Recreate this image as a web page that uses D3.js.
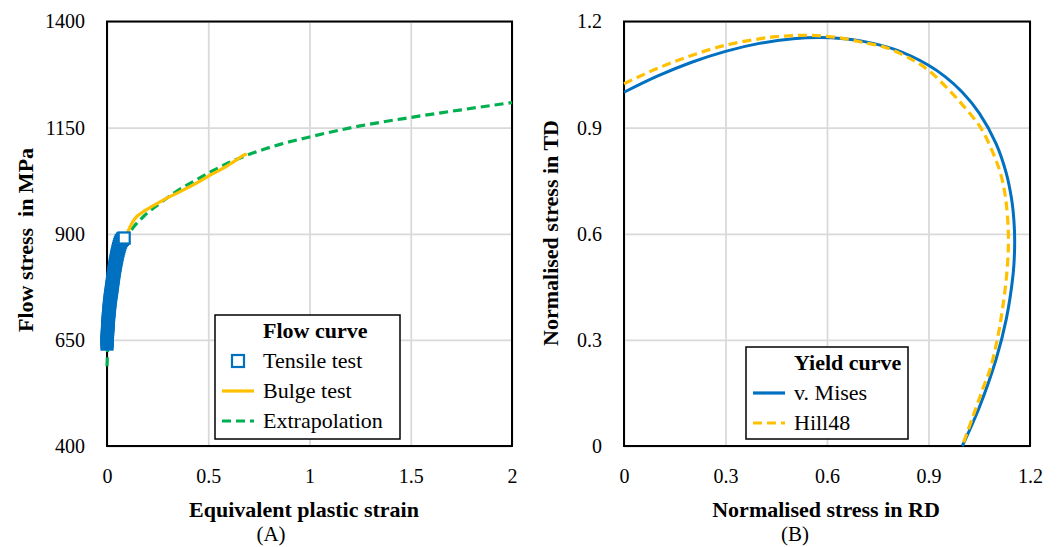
<!DOCTYPE html>
<html>
<head>
<meta charset="utf-8">
<script src="https://cdn.jsdelivr.net/npm/d3@7"></script>
<style>
  body { margin: 0; background: #fff; }
  svg text { font-family: "Liberation Serif", "Times New Roman", serif; fill: #000; }
</style>
</head>
<body>
<svg id="chart" width="1059" height="547"></svg>
<script>
// ---- panel A : flow curve ----
const tensileStrain = [0.0000, 0.0003, 0.0007, 0.0011, 0.0015, 0.0020, 0.0026, 0.0032, 0.0038, 0.0045,
  0.0052, 0.0059, 0.0066, 0.0074, 0.0082, 0.0091, 0.0100, 0.0111, 0.0122, 0.0133,
  0.0145, 0.0157, 0.0170, 0.0184, 0.0200, 0.0215, 0.0230, 0.0244, 0.0258, 0.0272,
  0.0286, 0.0300, 0.0315, 0.0330, 0.0346, 0.0362, 0.0380, 0.0398, 0.0416, 0.0435,
  0.0455, 0.0475, 0.0497, 0.0520, 0.0545, 0.0572, 0.0600, 0.0630, 0.0665, 0.0710,
  0.0760, 0.0800, 0.0850];
const tensileStress = [640, 645, 650, 655, 660, 665, 670, 675, 680, 685,
  690, 695, 700, 705, 710, 715, 720, 725, 730, 735,
  740, 745, 750, 755, 760, 765, 770, 775, 780, 785,
  790, 795, 800, 805, 810, 815, 820, 825, 830, 835,
  840, 845, 850, 855, 860, 865, 870, 875, 880, 884,
  887, 889, 890];

const bulgeStrain = [0.09, 0.105, 0.12, 0.135, 0.15, 0.179, 0.22, 0.262, 0.30, 0.344,
  0.385, 0.426, 0.47, 0.509, 0.55, 0.591, 0.63, 0.673, 0.69];
const bulgeStress = [893, 907, 922, 934, 942, 952, 964, 975, 985, 995,
  1005, 1015, 1027, 1038, 1048, 1059, 1071, 1085, 1088];

const extraStrain = [0, 0.003, 0.01, 0.02, 0.03, 0.045, 0.06, 0.08, 0.1, 0.13, 0.179, 0.262,
  0.344, 0.426, 0.509, 0.591, 0.72, 0.85, 1.0, 1.25, 1.5, 1.75, 2.0];
const extraStress = [588, 630, 690, 740, 775, 815, 845, 873, 895, 915, 940, 972,
  1000, 1023, 1045, 1065, 1090, 1110, 1128, 1154, 1174, 1192, 1209];

const strainTicks = [0, 0.5, 1, 1.5, 2];
const stressTicks = [400, 650, 900, 1150, 1400];

// ---- panel B : yield curve ----
const misesRD = [0, 0.1, 0.2, 0.3, 0.4, 0.5, 0.577, 0.65, 0.7, 0.8, 0.9, 0.95, 1.0, 1.05, 1.1,
  1.13, 1.145, 1.15, 1.154, 1.1547, 1.154, 1.15, 1.13, 1.1, 1.05, 1.0];
const misesTD = [1.0, 1.0462, 1.0849, 1.1157, 1.1381, 1.1514, 1.1547, 1.1515, 1.1453, 1.1211, 1.0765, 1.0434, 1.0, 0.9411, 0.8541,
  0.7707, 0.7019, 0.6651, 0.6118, 0.5774, 0.5422, 0.4849, 0.3593, 0.2459, 0.1089, 0];

const hillRD = [0, 0.1, 0.2, 0.3, 0.4, 0.45, 0.5, 0.55, 0.6, 0.65, 0.7, 0.775, 0.85, 0.9, 0.961,
  1.0, 1.054, 1.09, 1.113, 1.128, 1.136, 1.134, 1.126, 1.116, 1.103, 1.083, 1.059, 1.03, 1.0];
const hillTD = [1.024, 1.068, 1.104, 1.133, 1.151, 1.157, 1.160, 1.161, 1.158, 1.152, 1.142, 1.126, 1.093, 1.062, 1.006,
  0.965, 0.9, 0.83, 0.77, 0.70, 0.6, 0.52, 0.44, 0.37, 0.3, 0.22, 0.158, 0.08, 0];

const ratioTicks = [0, 0.3, 0.6, 0.9, 1.2];

const blue = '#0070c0';
const orange = '#ffc000';
const green = '#00b050';

const svg = d3.select('#chart');

const xA = d3.scaleLinear().domain([0, 2]).range([107, 512]);
const yA = d3.scaleLinear().domain([400, 1400]).range([446, 21.5]);
const xB = d3.scaleLinear().domain([0, 1.2]).range([624, 1030]);
const yB = d3.scaleLinear().domain([0, 1.2]).range([446, 21.5]);

const drawFrame = (x, y, xTicks, yTicks, fmtX, fmtY) => {
  const [x0, x1] = x.range();
  const [y0, y1] = y.range();
  const g = svg.append('g');

  // grid
  g.append('g')
    .attr('transform', 'translate(0,' + y0 + ')')
    .call(d3.axisBottom(x).tickValues(xTicks).tickSize(-(y0 - y1)).tickFormat(''))
    .call((a) => a.select('.domain').remove())
    .selectAll('line').attr('stroke', '#d9d9d9').attr('stroke-width', 1.75);
  g.append('g')
    .attr('transform', 'translate(' + x0 + ',0)')
    .call(d3.axisLeft(y).tickValues(yTicks).tickSize(-(x1 - x0)).tickFormat(''))
    .call((a) => a.select('.domain').remove())
    .selectAll('line').attr('stroke', '#d9d9d9').attr('stroke-width', 1.75);

  // tick labels
  g.append('g')
    .attr('transform', 'translate(0,' + y0 + ')')
    .call(d3.axisBottom(x).tickValues(xTicks).tickSize(0).tickPadding(23).tickFormat(fmtX))
    .attr('font-size', 20)
    .call((a) => a.select('.domain').remove());
  g.append('g')
    .attr('transform', 'translate(' + x0 + ',0)')
    .call(d3.axisLeft(y).tickValues(yTicks).tickSize(0).tickPadding(22).tickFormat(fmtY))
    .attr('font-size', 20)
    .call((a) => a.select('.domain').remove());

  g.append('rect')
    .attr('x', x0).attr('y', y1)
    .attr('width', x1 - x0).attr('height', y0 - y1)
    .attr('fill', 'none').attr('stroke', '#000').attr('stroke-width', 2);
};

const fmtRatio = (d) => (d === 0 ? '0' : d3.format('.1f')(d));
drawFrame(xA, yA, strainTicks, stressTicks, d3.format(''), d3.format('d'));
drawFrame(xB, yB, ratioTicks, ratioTicks, fmtRatio, fmtRatio);

// ---- curves A ----
const lineA = d3.line().x((d) => xA(d[0])).y((d) => yA(d[1]));

svg.append('path')
  .datum(d3.zip(extraStrain, extraStress))
  .attr('d', lineA.curve(d3.curveMonotoneX))
  .attr('fill', 'none').attr('stroke', green).attr('stroke-width', 3.2)
  .attr('stroke-dasharray', '9,5');

svg.append('path')
  .datum(d3.zip(bulgeStrain, bulgeStress))
  .attr('d', lineA.curve(d3.curveLinear))
  .attr('fill', 'none').attr('stroke', orange).attr('stroke-width', 3.2)
  .attr('stroke-linejoin', 'round');

// the tensile markers sit so close together that they merge into one band;
// only the last one shows its white inside
const tensile = d3.zip(tensileStrain, tensileStress);
svg.append('g')
  .selectAll('rect')
  .data(tensile)
  .enter()
  .append('rect')
  .attr('x', (d) => xA(d[0]) - 5.5)
  .attr('y', (d) => yA(d[1]) - 5.5)
  .attr('width', 11).attr('height', 11)
  .attr('fill', (d, i) => (i === tensile.length - 1 ? '#fff' : blue))
  .attr('stroke', blue).attr('stroke-width', 2.2);

// ---- curves B ----
const lineB = d3.line().x((d) => xB(d[0])).y((d) => yB(d[1])).curve(d3.curveCatmullRom);

svg.append('path')
  .datum(d3.zip(misesRD, misesTD))
  .attr('d', lineB)
  .attr('fill', 'none').attr('stroke', blue).attr('stroke-width', 3);

svg.append('path')
  .datum(d3.zip(hillRD, hillTD))
  .attr('d', lineB)
  .attr('fill', 'none').attr('stroke', orange).attr('stroke-width', 3.2)
  .attr('stroke-dasharray', '9,5');

// ---- axis titles ----
const title = (x, y, txt, rot) => {
  svg.append('text')
    .attr('transform', 'translate(' + x + ',' + y + ')' + (rot ? ' rotate(-90)' : ''))
    .attr('text-anchor', 'middle')
    .attr('dy', '0.35em')
    .style('font-size', '22px')
    .style('font-weight', 'bold')
    .style('white-space', 'pre')
    .text(txt);
};
title(304, 509, 'Equivalent plastic strain');
title(25, 240, 'Flow stress  in MPa', true);
title(826, 509, 'Normalised stress in RD');
title(550, 233, 'Normalised stress in TD', true);

svg.append('text').attr('x', 271).attr('y', 541).attr('text-anchor', 'middle')
  .style('font-size', '21px').text('(A)');
svg.append('text').attr('x', 795).attr('y', 541).attr('text-anchor', 'middle')
  .style('font-size', '21px').text('(B)');

// ---- legends ----
const legend = (box, heading, items) => {
  const g = svg.append('g');
  g.append('rect')
    .attr('x', box[0]).attr('y', box[1]).attr('width', box[2]).attr('height', box[3])
    .attr('fill', '#fff').attr('stroke', '#000').attr('stroke-width', 1.5);
  const tx = box[0] + 48;
  g.append('text').attr('x', tx).attr('y', box[1] + 23)
    .style('font-size', '22px').style('font-weight', 'bold').text(heading);
  items.forEach((it, i) => {
    const cy = box[1] + 46 + i * 30;
    const x1 = box[0] + 7;
    const x2 = box[0] + 39;
    if (it.kind === 'square') {
      g.append('rect')
        .attr('x', (x1 + x2) / 2 - 6).attr('y', cy - 6)
        .attr('width', 12).attr('height', 12)
        .attr('fill', '#fff').attr('stroke', it.color).attr('stroke-width', 2.2);
    } else {
      g.append('line')
        .attr('x1', x1).attr('x2', x2).attr('y1', cy).attr('y2', cy)
        .attr('stroke', it.color).attr('stroke-width', 3.2)
        .attr('stroke-dasharray', it.kind === 'dash' ? '9,5' : null);
    }
    g.append('text').attr('x', tx).attr('y', cy).attr('dy', '0.33em')
      .style('font-size', '22px').text(it.label);
  });
};

legend([215, 315, 185, 124], 'Flow curve', [
  { label: 'Tensile test', color: blue, kind: 'square' },
  { label: 'Bulge test', color: orange, kind: 'line' },
  { label: 'Extrapolation', color: green, kind: 'dash' },
]);
legend([746, 347, 162, 92], 'Yield curve', [
  { label: 'v. Mises', color: blue, kind: 'line' },
  { label: 'Hill48', color: orange, kind: 'dash' },
]);
</script>
</body>
</html>
